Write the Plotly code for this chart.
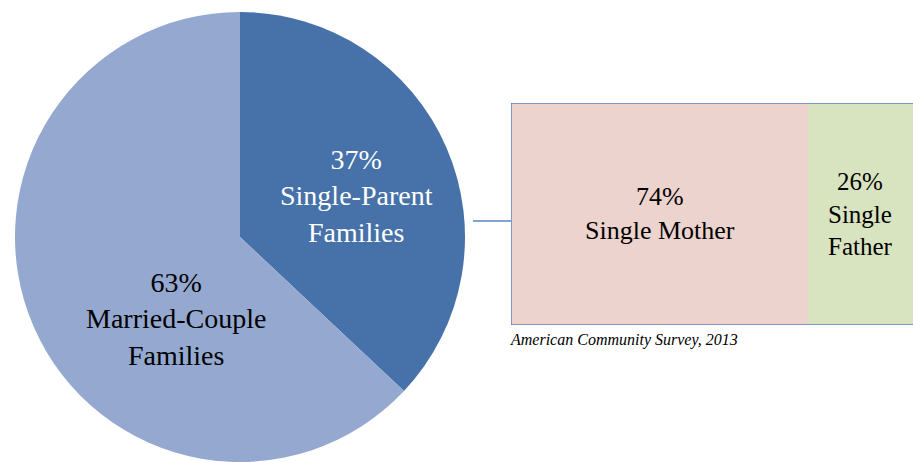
import plotly.graph_objects as go

# Data
pie_labels = ["Single-Parent Families", "Married-Couple Families"]
pie_values = [37, 63]
pie_colors = ["#4672A9", "#95A9D0"]

sub_labels = ["Single Mother", "Single Father"]
sub_values = [74, 26]
sub_colors = ["#ECD3CD", "#D8E3C0"]

source_text = "American Community Survey, 2013"

W, H = 913, 462
FONT = "Liberation Serif, Times New Roman, serif"

fig = go.Figure()

fig.add_trace(go.Pie(
    labels=pie_labels, values=pie_values, sort=False, direction="clockwise",
    rotation=0, marker=dict(colors=pie_colors, line=dict(width=0)),
    textinfo="none", hoverinfo="label+percent", showlegend=False,
    domain=dict(x=[15 / W, 465 / W], y=[0, 450 / H]),
))

for lab, val, col in zip(sub_labels, sub_values, sub_colors):
    fig.add_trace(go.Bar(
        x=[val], y=["Single-Parent"], orientation="h", name=lab,
        marker=dict(color=col, line=dict(width=0)), showlegend=False,
        xaxis="x", yaxis="y", hoverinfo="name+x",
    ))

# Pie labels
pie_text_pos = [(356, 196), (176, 319)]
for (lab, val), (px, py) in zip(zip(pie_labels, pie_values), pie_text_pos):
    a, b = lab.split(" ")
    col = "white" if val == pie_values[0] else "black"
    fig.add_annotation(
        x=px / W, y=1 - py / H, xref="paper", yref="paper",
        xanchor="center", yanchor="middle",
        text=f"{val}%<br>{a}<br>{b}", showarrow=False,
        font=dict(family=FONT, size=28, color=col), align="center",
    )

# Bar labels, positioned at the middle of each segment
cum = 0
for lab, val in zip(sub_labels, sub_values):
    mid = cum + val / 2
    cum += val
    if val >= 50:
        txt = f"{val}%<br>{lab}"
        size = 26
    else:
        txt = f"{val}%<br>" + "<br>".join(lab.split(" "))
        size = 25
    fig.add_annotation(
        x=mid, y=0, xref="x", yref="y", text=txt, showarrow=False,
        xanchor="center", yanchor="middle",
        font=dict(family=FONT, size=size, color="black"), align="center",
    )

# Bar outline (left, top, bottom; right side runs off the page)
total = sum(sub_values)
fig.add_shape(type="path", xref="x", yref="y",
              path=f"M {total},0.5 L 0,0.5 L 0,-0.5 L {total},-0.5",
              line=dict(color="#5B84C4", width=1.5))
# Connector line
fig.add_shape(type="line", xref="paper", yref="paper",
              x0=473 / W, x1=511 / W, y0=1 - 221 / H, y1=1 - 221 / H,
              line=dict(color="#5B84C4", width=1.5))

fig.add_annotation(
    x=508 / W, y=1 - 340 / H, xref="paper", yref="paper",
    xanchor="left", yanchor="middle",
    text=f"<i>{source_text}</i>", showarrow=False,
    font=dict(family=FONT, size=16, color="black"),
)

fig.update_layout(
    width=W, height=H, margin=dict(l=0, r=0, t=0, b=0),
    paper_bgcolor="white", plot_bgcolor="white",
    bargap=0, barmode="stack",
    xaxis=dict(domain=[511 / W, 1], range=[0, 100], visible=False, fixedrange=True),
    yaxis=dict(domain=[(H - 325) / H, (H - 103) / H], range=[-0.5, 0.5],
               visible=False, fixedrange=True),
)

fig.write_html(
    "out.html",
    config={"displayModeBar": False},
    post_script="document.body.style.margin='0';document.body.style.overflow='hidden';",
)
